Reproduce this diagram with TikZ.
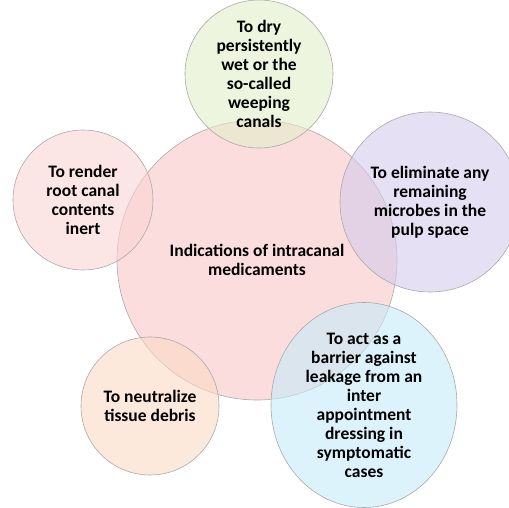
\documentclass[tikz,border=0pt]{standalone}
\usepackage{fontspec}
\setmainfont{Carlito}
\usetikzlibrary{shapes.geometric}
\definecolor{rim}{HTML}{A9A9A9}
\definecolor{hubpink}{RGB}{250,198,198}
\definecolor{rosepink}{RGB}{250,212,212}
\definecolor{lime}{RGB}{225,238,200}
\definecolor{lilac}{RGB}{212,203,235}
\definecolor{skyblue}{RGB}{198,235,250}
\definecolor{peach}{RGB}{250,218,195}

\begin{document}
\begin{tikzpicture}[x=1pt,y=-1pt,
 bubble/.style={circle,draw=rim,line width=0.6pt,fill opacity=0.6,text opacity=1,
              inner sep=0pt,align=center,font=\bfseries\fontsize{17.5}{19}\selectfont},
 oval/.style={bubble,ellipse}]
\useasboundingbox (0,0) rectangle (509,508);
\clip (0,0) rectangle (509,508);
\node[bubble,fill=hubpink,minimum size=280pt] (hub) at (257,260) {Indications of intracanal\\medicaments};
\node[bubble,fill=lime,minimum size=148pt] (dry) at (259,74) {To dry\\persistently\\wet or the\\so-called\\weeping\\canals};
\node[bubble,fill=lilac,minimum size=180pt] (microbe) at (430,202) {To eliminate any\\remaining\\microbes in the\\pulp space};
\node[oval,fill=skyblue,minimum width=186pt,minimum height=205pt] (barrier) at (364,405) {To act as a\\barrier against\\leakage from an\\inter\\appointment\\dressing in\\symptomatic\\cases};
\node[bubble,fill=peach,minimum size=138pt] (debris) at (150,406) {To neutralize\\tissue debris};
\node[bubble,fill=rosepink,minimum size=140pt] (inert) at (83,200) {To render\\root canal\\contents\\inert};
\end{tikzpicture}
\end{document}
